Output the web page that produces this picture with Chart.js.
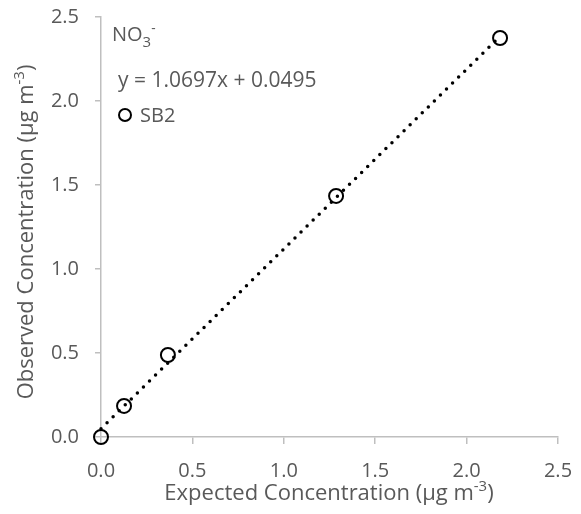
<!DOCTYPE html>
<html>
<head>
<meta charset="utf-8">
<script src="https://cdn.jsdelivr.net/npm/chart.js@4.4.1/dist/chart.umd.min.js"></script>
<style>
html,body{margin:0;padding:0;background:#fff;}
#wrap{width:581px;height:514px;position:relative;}
</style>
</head>
<body>
<div id="wrap"><canvas id="c" width="581" height="514"></canvas></div>
<script>
// ---- data ----
const seriesName = 'SB2';
const expected = [0, 0.126, 0.366, 1.286, 2.183];
const observed = [0, 0.185, 0.488, 1.435, 2.375];
const trendSlope = 1.0697;
const trendIntercept = 0.0495;
const trendX = [0, 2.183];
const axisTicks = [0, 0.5, 1.0, 1.5, 2.0, 2.5];
const speciesLabel = [{t:'NO'},{t:'3',k:'sub'},{t:'-',k:'sup'}];
const equationLabel = 'y = 1.0697x + 0.0495';
const xTitle = [{t:'Expected Concentration (µg m'},{t:'-3',k:'sup'},{t:')'}];
const yTitle = [{t:'Observed Concentration (µg m'},{t:'-3',k:'sup'},{t:')'}];

const FONT = '"Open Sans", sans-serif';
const TXT = '#595959';
const AX = '#bfbfbf';

const points = expected.map((x,i)=>({x:x, y:observed[i]}));
const trend = trendX.map(x=>({x:x, y:trendSlope*x+trendIntercept}));

function partSize(p, size){ return p.k==='sub' ? size*0.75 : (p.k==='sup' ? size*0.68 : size); }
function richWidth(ctx, parts, size){
  let w=0;
  parts.forEach(p=>{
    ctx.font = partSize(p,size)+'px '+FONT;
    w += ctx.measureText(p.t).width;
  });
  return w;
}
function drawRich(ctx, parts, x, y, size){
  let cx=x;
  parts.forEach(p=>{
    ctx.font = partSize(p,size)+'px '+FONT;
    let dy = 0;
    if(p.k==='sup') dy = -size*0.42;
    if(p.k==='sub') dy = size*0.3;
    ctx.fillText(p.t, cx, y+dy);
    cx += ctx.measureText(p.t).width;
  });
}

const overlay = {
  id:'overlay',
  afterDraw(chart){
    const ctx = chart.ctx;
    ctx.save();
    ctx.fillStyle = TXT;
    ctx.textBaseline = 'alphabetic';
    ctx.textAlign = 'left';
    // species label
    drawRich(ctx, speciesLabel, 112, 41, 20);
    // equation
    ctx.font = '21px '+FONT;
    ctx.fillText(equationLabel, 118, 87);
    // legend
    ctx.beginPath();
    ctx.arc(125, 115, 6, 0, Math.PI*2);
    ctx.lineWidth = 2; ctx.strokeStyle = '#000'; ctx.stroke();
    ctx.font = '20px '+FONT;
    ctx.fillStyle = TXT;
    ctx.fillText(seriesName, 140, 122);
    // x title
    const ts = 22;
    const wx = richWidth(ctx, xTitle, ts);
    drawRich(ctx, xTitle, 329 - wx/2, 500, ts);
    // y title
    const wy = richWidth(ctx, yTitle, ts);
    ctx.translate(33, 232);
    ctx.rotate(-Math.PI/2);
    drawRich(ctx, yTitle, -wy/2, 0, ts);
    ctx.restore();
  }
};

new Chart(document.getElementById('c'), {
  type:'scatter',
  data:{
    datasets:[
      {
        label: seriesName,
        data: points,
        showLine:false,
        pointStyle:'circle',
        pointRadius:7,
        pointHoverRadius:7,
        pointBorderWidth:2,
        pointBorderColor:'#000',
        pointBackgroundColor:'rgba(255,255,255,0)',
        clip:false,
        order:1
      },
      {
        label:'trend',
        data: trend,
        showLine:true,
        pointRadius:0,
        borderColor:'#000',
        borderWidth:3.5,
        borderDash:[0,8.5],
        borderCapStyle:'round',
        fill:false,
        clip:false,
        order:2
      }
    ]
  },
  options:{
    responsive:false,
    animation:false,
    events:[],
    layout:{autoPadding:false, padding:{left:0,right:23,top:17,bottom:0}},
    plugins:{legend:{display:false}, tooltip:{enabled:false}},
    scales:{
      x:{
        type:'linear', min:0, max:2.5,
        afterBuildTicks(s){ s.ticks = axisTicks.map(v=>({value:v})); },
        afterFit(s){ s.height = 77; s.paddingLeft = 0; s.paddingRight = 0; },
        grid:{drawOnChartArea:false, drawTicks:true, tickLength:7, color:AX, lineWidth:1.5},
        border:{color:AX, width:1.5},
        ticks:{color:TXT, font:{family:FONT, size:20}, padding:15,
          callback:v=>Number(v).toFixed(1)}
      },
      y:{
        type:'linear', min:0, max:2.5,
        afterBuildTicks(s){ s.ticks = axisTicks.map(v=>({value:v})); },
        afterFit(s){ s.width = 101; s.paddingTop = 0; s.paddingBottom = 0; },
        grid:{drawOnChartArea:false, drawTicks:true, tickLength:6, color:AX, lineWidth:1.5},
        border:{color:AX, width:1.5},
        ticks:{color:TXT, font:{family:FONT, size:20}, padding:16,
          callback:v=>Number(v).toFixed(1)}
      }
    }
  },
  plugins:[overlay]
});
</script>
</body>
</html>
